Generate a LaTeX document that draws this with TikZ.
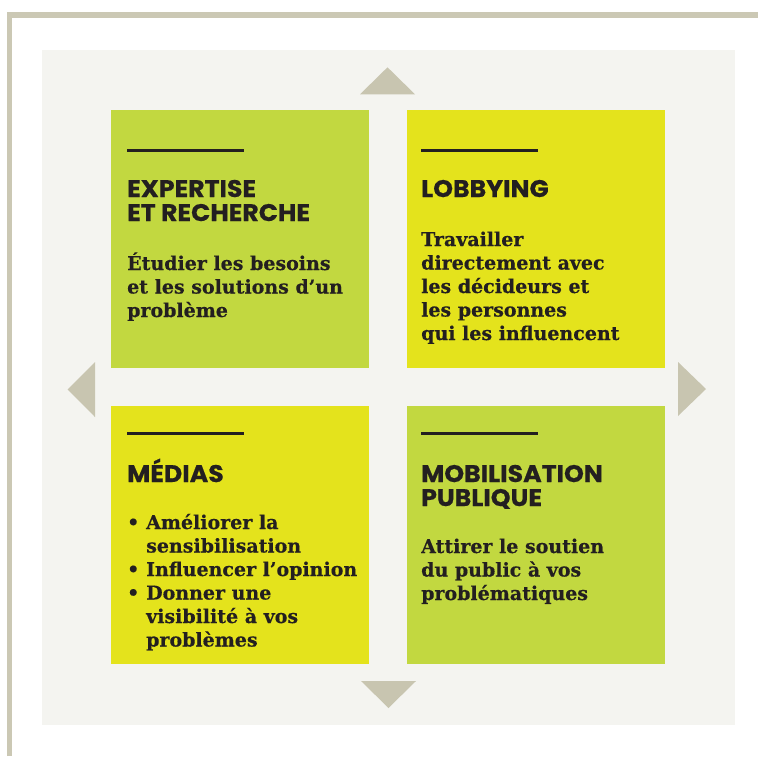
\documentclass[tikz,border=0pt]{standalone}
\usepackage{fontspec}
\newfontfamily\headfont{Poppins}[FakeStretch=1.05, BoldFeatures={FakeBold=0.6}]
\newfontfamily\bodyfont{DejaVu Serif}[BoldFeatures={FakeBold=0.4}]
\definecolor{ink}{HTML}{231F20}
\definecolor{leaf}{HTML}{C2D840}
\definecolor{lemon}{HTML}{E4E31C}
\definecolor{panel}{HTML}{F4F4F0}
\definecolor{framegray}{HTML}{CBC8B4}
\definecolor{trigray}{HTML}{C8C5B0}
\newcommand\Ln[1]{\hbox{#1}}
\newcommand\Bul[1]{\hbox{\makebox[19pt][l]{•}#1}}
\newcommand\Ind[1]{\hbox{\hspace{19pt}#1}}
\tikzset{
  quadbox/.style={fill=#1, draw=none},
  rulebar/.style={line width=3pt, draw=ink},
  headtxt/.style={anchor=base west, inner sep=0pt, text=ink,
    font=\headfont\bfseries\fontsize{24}{24}\selectfont},
  bodytxt/.style={anchor=base west, inner sep=0pt, text=ink,
    font=\bodyfont\bfseries\fontsize{19}{23.5}\selectfont},
  trishape/.style={fill=trigray, draw=none},
  frameline/.style={draw=framegray, line width=5.3pt}
}
\begin{document}
\begin{tikzpicture}[x=1pt,y=-1pt]
\useasboundingbox (0,0) rectangle (758,756);
\fill[white] (0,0) rectangle (758,756);
% outer frame
\draw[frameline] (9.65,756) -- (9.65,15) -- (758,15);
% panel
\fill[panel] (42,50) rectangle (735,725);
% quadrants
\fill[quadbox=leaf]  (111,110) rectangle (369,368);
\fill[quadbox=lemon] (407,110) rectangle (665,368);
\fill[quadbox=lemon] (111,406) rectangle (369,664);
\fill[quadbox=leaf]  (407,406) rectangle (665,664);
% triangles
\fill[trishape] (360,94.3) -- (415,94.3) -- (387.5,67.3) -- cycle;
\fill[trishape] (361,681) -- (416,681) -- (388.5,708) -- cycle;
\fill[trishape] (95,362) -- (95,417) -- (67.7,389.5) -- cycle;
\fill[trishape] (678,362) -- (678,416) -- (706,389) -- cycle;
% top-left
\coordinate (r1a) at (127,150); \coordinate (r1b) at (244,150);
\draw[rulebar] (r1a) -- (r1b);
\node[headtxt] (h1) at (127,197) {\vtop{\Ln{EXPERTISE}\Ln{ET RECHERCHE}}};
\node[bodytxt] (b1) at (127,270) {\vtop{\Ln{Étudier les besoins}\Ln{et les solutions d’un}\Ln{problème}}};
% top-right
\coordinate (r2a) at (421,150); \coordinate (r2b) at (538,150);
\draw[rulebar] (r2a) -- (r2b);
\node[headtxt] (h2) at (421,197) {\vtop{\Ln{LOBBYING}}};
\node[bodytxt] (b2) at (421,246) {\vtop{\Ln{Travailler}\Ln{directement avec}\Ln{les décideurs et}\Ln{les personnes}\Ln{qui les influencent}}};
% bottom-left
\coordinate (r3a) at (127,433); \coordinate (r3b) at (244,433);
\draw[rulebar] (r3a) -- (r3b);
\node[headtxt] (h3) at (127,482) {\vtop{\Ln{MÉDIAS}}};
\node[bodytxt] (b3) at (127,529) {\vtop{\Bul{Améliorer la}\Ind{sensibilisation}\Bul{Influencer l’opinion}\Bul{Donner une}\Ind{visibilité à vos}\Ind{problèmes}}};
% bottom-right
\coordinate (r4a) at (421,433); \coordinate (r4b) at (538,433);
\draw[rulebar] (r4a) -- (r4b);
\node[headtxt] (h4) at (421,482) {\vtop{\Ln{MOBILISATION}\Ln{PUBLIQUE}}};
\node[bodytxt] (b4) at (421,553) {\vtop{\Ln{Attirer le soutien}\Ln{du public à vos}\Ln{problématiques}}};
\end{tikzpicture}
\end{document}
